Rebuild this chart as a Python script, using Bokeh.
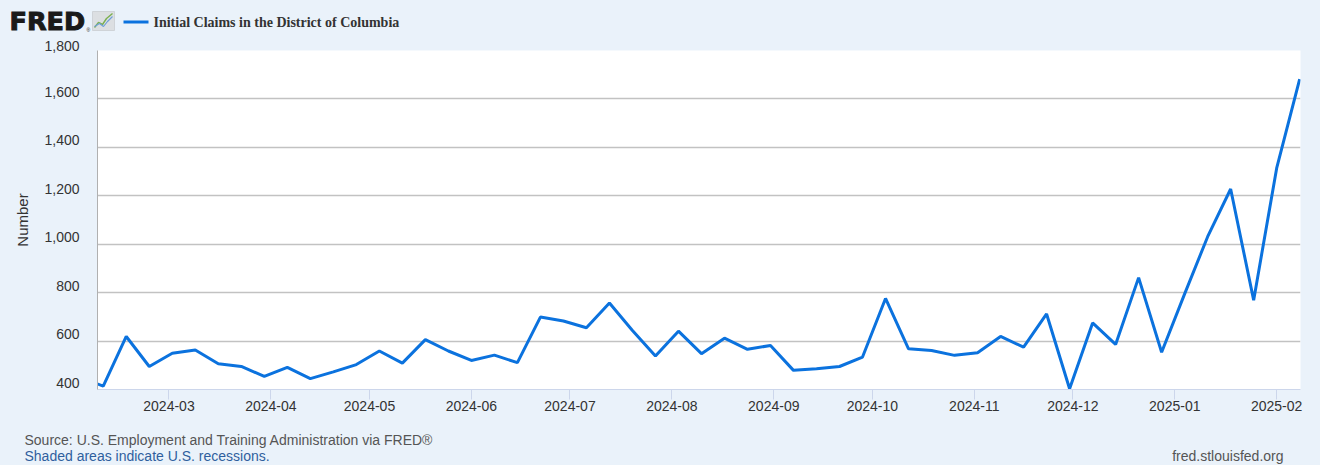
from datetime import datetime
from bokeh.plotting import figure
from bokeh.layouts import column
from bokeh.models import (Range1d, FixedTicker, DatetimeTickFormatter, ColumnDataSource)
from bokeh.core.properties import value
from bokeh.embed import file_html
from bokeh.resources import INLINE

# ---- data (weekly, week ending Saturday) ----
week_end = [
    "2024-02-03", "2024-02-10", "2024-02-17", "2024-02-24", "2024-03-02", "2024-03-09",
    "2024-03-16", "2024-03-23", "2024-03-30", "2024-04-06", "2024-04-13", "2024-04-20",
    "2024-04-27", "2024-05-04", "2024-05-11", "2024-05-18", "2024-05-25", "2024-06-01",
    "2024-06-08", "2024-06-15", "2024-06-22", "2024-06-29", "2024-07-06", "2024-07-13",
    "2024-07-20", "2024-07-27", "2024-08-03", "2024-08-10", "2024-08-17", "2024-08-24",
    "2024-08-31", "2024-09-07", "2024-09-14", "2024-09-21", "2024-09-28", "2024-10-05",
    "2024-10-12", "2024-10-19", "2024-10-26", "2024-11-02", "2024-11-09", "2024-11-16",
    "2024-11-23", "2024-11-30", "2024-12-07", "2024-12-14", "2024-12-21", "2024-12-28",
    "2025-01-04", "2025-01-11", "2025-01-18", "2025-01-25", "2025-02-01", "2025-02-08",
]
claims = [
    450, 414, 619, 495, 550, 563,
    506, 495, 454, 491, 445, 473,
    503, 559, 509, 606, 559, 520,
    542, 511, 699, 683, 655, 757,
    644, 538, 641, 548, 612, 566,
    582, 479, 486, 495, 534, 776,
    568, 561, 541, 552, 619, 575,
    712, 403, 675, 586, 862, 554,
    795, 1031, 1228, 769, 1314, 1682,
]
y_ticks = [400, 600, 800, 1000, 1200, 1400, 1600, 1800]
x_tick_labels = ["2024-03", "2024-04", "2024-05", "2024-06", "2024-07", "2024-08",
                 "2024-09", "2024-10", "2024-11", "2024-12", "2025-01", "2025-02"]

series_name = "Initial Claims in the District of Columbia"
source_text = "Source: U.S. Employment and Training Administration via FRED®"
recession_text = "Shaded areas indicate U.S. recessions."
site_text = "fred.stlouisfed.org"

BG = "#EAF2FA"
LINE = "#0B72DE"
FONT = "Liberation Sans"
W = 1320
HEAD_H = 37
FOOT_TOP = 425


def strip(height, y_top):
    """A decoration strip whose frame fills the canvas; y runs downward in page pixels."""
    f = figure(width=W, height=height, title=None, output_backend="svg", toolbar_location=None,
               x_range=Range1d(0, W), y_range=Range1d(y_top + height, y_top),
               x_axis_location=None, y_axis_location=None,
               min_border=0, min_border_left=0, min_border_right=0,
               min_border_top=0, min_border_bottom=0)
    f.frame_align = False
    f.grid.visible = False
    f.outline_line_color = None
    f.background_fill_color = BG
    f.border_fill_color = BG
    return f


# ---- header ----
head = strip(HEAD_H, 0)
logo = head.text(x=[9], y=[20.5], text=["FRED"], text_font=value("DejaVu Sans"),
                 text_font_style="bold", text_font_size="25.5px", text_color="#1a1a1a",
                 text_baseline="middle", text_align="left")
try:
    logo.glyph.text_outline_color = "#1a1a1a"
except Exception:
    pass
head.text(x=[86], y=[29], text=["®"], text_font=value(FONT), text_font_size="5px",
          text_color="#1a1a1a", text_baseline="middle", text_align="left")
head.patch(x=[92, 114, 114, 92], y=[11, 11, 30, 30], fill_color="#dcdfe2", line_color="#cfd3d7")
head.line(x=[94, 98, 102, 106, 112], y=[27, 22, 24, 18, 13], line_color="#7bb050", line_width=1.4)
head.line(x=[94, 99, 103, 107, 112], y=[26, 23, 26, 21, 16], line_color="#6f9fd8", line_width=1.2)
head.line(x=[123, 148], y=[21.5, 21.5], line_color=LINE, line_width=3)
head.text(x=[153], y=[21.5], text=[series_name], text_font=value("Liberation Serif"),
          text_font_style="bold", text_font_size="14px", text_color="#333333",
          text_baseline="middle", text_align="left")

# ---- main chart ----
dates = [datetime.strptime(d, "%Y-%m-%d") for d in week_end]
src = ColumnDataSource(dict(date=dates, claims=claims))

p = figure(width=W, height=FOOT_TOP - HEAD_H, title=None, x_axis_type="datetime",
           output_backend="svg", toolbar_location=None,
           x_range=Range1d(datetime(2024, 2, 8, 6), datetime(2025, 2, 8, 6)),
           y_range=Range1d(400, 1800),
           min_border_left=97, min_border_right=20, min_border_top=50 - HEAD_H,
           min_border_bottom=FOOT_TOP - 389)
p.frame_align = False
p.background_fill_color = "white"
p.border_fill_color = BG
p.outline_line_color = None

p.line("date", "claims", source=src, line_color=LINE, line_width=3)

tick_ms = [datetime.strptime(t + "-01", "%Y-%m-%d").timestamp() * 1000 for t in x_tick_labels]
p.xaxis.ticker = FixedTicker(ticks=tick_ms)
fmt = "%Y-%m"
p.xaxis.formatter = DatetimeTickFormatter(years=fmt, months=fmt, days=fmt, hours=fmt,
                                          hourmin=fmt, minutes=fmt, minsec=fmt, seconds=fmt,
                                          milliseconds=fmt, microseconds=fmt)
p.xaxis.axis_line_color = "#ccd6eb"
p.xaxis.major_tick_line_color = "#ccd6eb"
p.xaxis.major_tick_out = 10
p.xaxis.major_tick_in = 0
p.xaxis.minor_tick_line_color = None
p.xaxis.major_label_standoff = 1
p.xaxis.major_label_text_font = FONT
p.xaxis.major_label_text_font_size = "14px"
p.xaxis.major_label_text_color = "#333333"
p.xgrid.grid_line_color = None

p.yaxis.ticker = FixedTicker(ticks=y_ticks)
# second blank line lifts each label slightly above its grid line, as in the reference
p.yaxis.major_label_overrides = {v: "{:,}\n ".format(v) for v in y_ticks}
p.yaxis.major_label_text_line_height = 0.86
p.yaxis.axis_line_color = "#b0b0b0"
p.yaxis.major_tick_line_color = None
p.yaxis.minor_tick_line_color = None
p.yaxis.major_label_standoff = 12
p.yaxis.major_label_text_font = FONT
p.yaxis.major_label_text_font_size = "14px"
p.yaxis.major_label_text_color = "#333333"
p.yaxis.axis_label = "Number"
p.yaxis.axis_label_text_font = FONT
p.yaxis.axis_label_text_font_size = "15px"
p.yaxis.axis_label_text_font_style = "normal"
p.yaxis.axis_label_text_color = "#333333"
p.yaxis.axis_label_standoff = 10
p.ygrid.grid_line_color = "#c2c2c2"
p.ygrid.grid_line_width = 1.5

# ---- footer ----
foot = strip(465 - FOOT_TOP, FOOT_TOP)
foot.text(x=[24], y=[439], text=[source_text], text_font=value(FONT), text_font_size="14px",
          text_color="#555555", text_baseline="middle", text_align="left")
foot.text(x=[24], y=[455], text=[recession_text], text_font=value(FONT), text_font_size="14px",
          text_color="#2f5f9e", text_baseline="middle", text_align="left")
foot.text(x=[1283], y=[455], text=[site_text], text_font=value(FONT), text_font_size="14px",
          text_color="#555555", text_baseline="middle", text_align="right")

layout = column(head, p, foot, spacing=0)
html = file_html(layout, INLINE)
html = html.replace("</head>", "<style>html, body { background: %s; }</style></head>" % BG, 1)
open("out.html", "w").write(html)
